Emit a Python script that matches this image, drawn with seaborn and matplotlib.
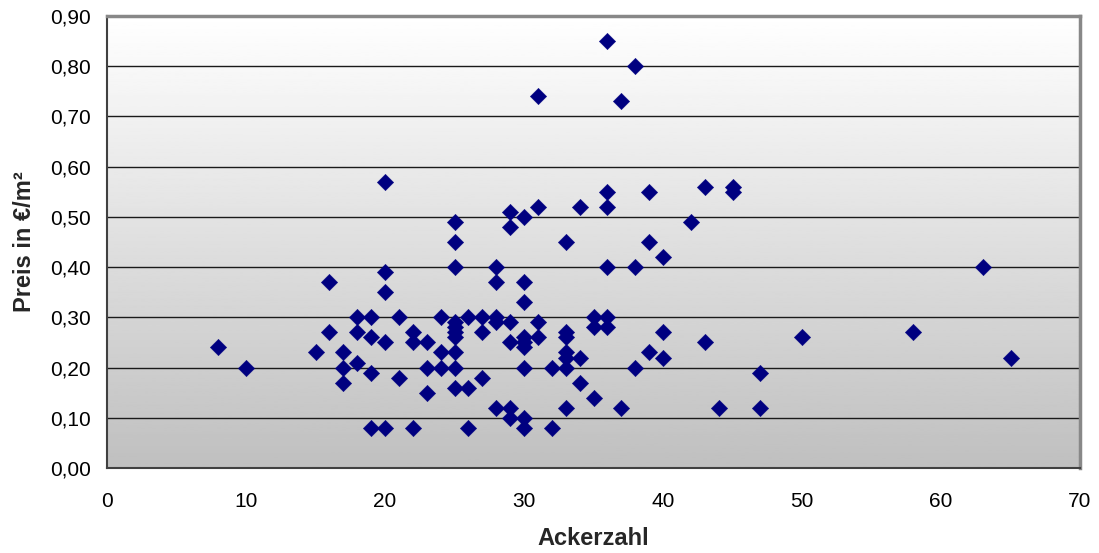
import numpy as np
import pandas as pd
import matplotlib
matplotlib.use("Agg")
import matplotlib.pyplot as plt
import seaborn as sns
from matplotlib.ticker import FuncFormatter

# Data
ackerzahl = [8, 10, 15, 16, 16, 17, 17, 17, 18, 18, 18,
             19, 19, 19, 19, 20, 20, 20, 20, 20, 21, 21,
             22, 22, 22, 23, 23, 23, 24, 24, 24,
             25, 25, 25, 25, 25, 25, 25, 25, 25, 25,
             26, 26, 26, 27, 27, 27, 28, 28, 28, 28, 28,
             29, 29, 29, 29, 29, 29,
             30, 30, 30, 30, 30, 30, 30, 30, 30,
             31, 31, 31, 31, 32, 32,
             33, 33, 33, 33, 33, 33, 33, 34, 34, 34,
             35, 35, 35, 36, 36, 36, 36, 36, 36, 37, 37,
             38, 38, 38, 39, 39, 39, 40, 40, 40,
             42, 43, 43, 44, 45, 45, 47, 47, 50, 58, 63, 65]
preis = [0.24, 0.20, 0.23, 0.37, 0.27, 0.23, 0.20, 0.17, 0.30, 0.27, 0.21,
         0.30, 0.26, 0.19, 0.08, 0.57, 0.39, 0.35, 0.25, 0.08, 0.30, 0.18,
         0.27, 0.25, 0.08, 0.25, 0.20, 0.15, 0.30, 0.23, 0.20,
         0.49, 0.45, 0.40, 0.29, 0.27, 0.26, 0.23, 0.20, 0.16, 0.28,
         0.30, 0.16, 0.08, 0.30, 0.27, 0.18, 0.40, 0.37, 0.30, 0.29, 0.12,
         0.51, 0.48, 0.25, 0.12, 0.10, 0.29,
         0.50, 0.37, 0.33, 0.26, 0.24, 0.20, 0.10, 0.08, 0.25,
         0.74, 0.52, 0.29, 0.26, 0.20, 0.08,
         0.45, 0.27, 0.26, 0.23, 0.22, 0.20, 0.12, 0.52, 0.22, 0.17,
         0.30, 0.28, 0.14, 0.85, 0.55, 0.52, 0.40, 0.30, 0.28, 0.73, 0.12,
         0.80, 0.40, 0.20, 0.55, 0.45, 0.23, 0.42, 0.27, 0.22,
         0.49, 0.56, 0.25, 0.12, 0.56, 0.55, 0.19, 0.12, 0.26, 0.27, 0.40, 0.22]

x_ticks = [0, 10, 20, 30, 40, 50, 60, 70]
y_ticks = [0.0, 0.1, 0.2, 0.3, 0.4, 0.5, 0.6, 0.7, 0.8, 0.9]
x_label = "Ackerzahl"
y_label = "Preis in €/m²"

df = pd.DataFrame({"Ackerzahl": ackerzahl, "Preis": preis})

sns.set_style("white")
plt.rcParams["font.family"] = ["Liberation Sans", "DejaVu Sans"]

fig = plt.figure(figsize=(10.99, 5.53), dpi=100)
ax = fig.add_axes([107 / 1099, 85 / 553, (1080 - 107) / 1099, (468 - 16) / 553])

# gradient background (white at top to grey at bottom)
grad = np.linspace(0.75, 1.0, 256).reshape(-1, 1)
ax.imshow(grad, extent=[0, 70, 0, 0.9], origin="lower", aspect="auto",
          cmap="gray", vmin=0, vmax=1, zorder=0)

for yv in y_ticks[1:-1]:
    ax.axhline(yv, color="#1a1a1a", lw=1.0, zorder=1)

sns.scatterplot(data=df, x="Ackerzahl", y="Preis", marker="D", s=70,
                color="#000080", edgecolor="#000080", linewidth=0.3,
                ax=ax, zorder=3, legend=False)

ax.set_xlim(0, 70)
ax.set_ylim(0, 0.9)
ax.set_xticks(x_ticks)
ax.set_yticks(y_ticks)
ax.yaxis.set_major_formatter(FuncFormatter(lambda v, p: f"{v:.2f}".replace(".", ",")))
ax.tick_params(axis="both", width=1, color="#303030",
               labelsize=15, labelcolor="#000000")
ax.tick_params(axis="x", direction="out", length=6, pad=11)
ax.tick_params(axis="y", direction="inout", length=11, pad=6)

for side in ["left", "bottom"]:
    ax.spines[side].set_color("#404040")
    ax.spines[side].set_linewidth(1.5)
for side in ["top", "right"]:
    ax.spines[side].set_visible(True)
    ax.spines[side].set_color("#888888")
    ax.spines[side].set_linewidth(2.5)

ax.set_xlabel(x_label, fontsize=17, fontweight="bold", labelpad=12)
ax.set_ylabel(y_label, fontsize=17, fontweight="bold", labelpad=10)

fig.savefig("out.png", dpi=100, facecolor="white")
